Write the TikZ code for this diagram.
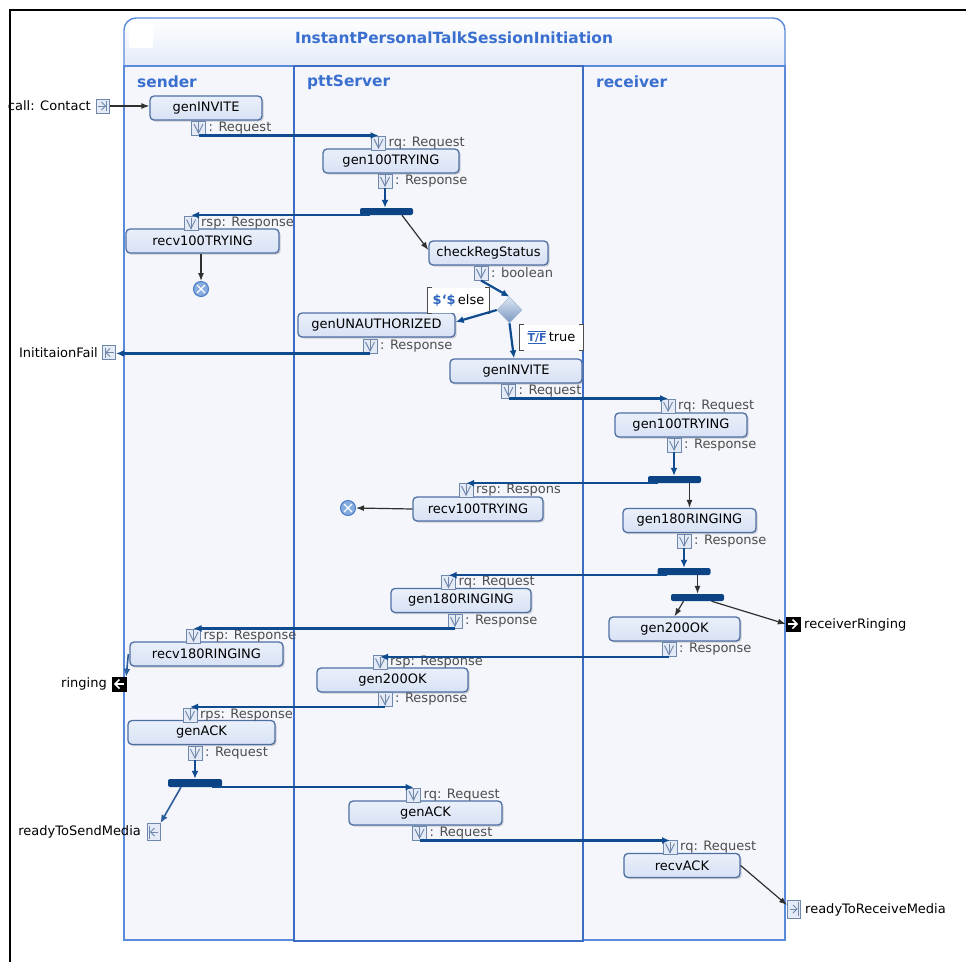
\documentclass[tikz,border=0pt]{standalone}
\usepackage{fontspec}
\setmainfont{DejaVu Sans}
\usetikzlibrary{arrows.meta,shapes.geometric,shadows}

\definecolor{laneTxt}{HTML}{3A6FCF}
\definecolor{laneLine}{HTML}{5A8ADA}
\definecolor{laneDark}{HTML}{3C6CC4}
\definecolor{laneFill}{HTML}{F4F6FC}
\definecolor{titleBot}{HTML}{DCE5F6}
\definecolor{actFill}{HTML}{D8E2F5}
\definecolor{actTop}{HTML}{EAF0FA}
\definecolor{actDraw}{HTML}{4E6FA3}
\definecolor{flowBlue}{HTML}{0F4C8F}
\definecolor{flowMid}{HTML}{2B5C9C}
\definecolor{forkBlue}{HTML}{0B4384}
\definecolor{pinDraw}{HTML}{6E87AB}
\definecolor{pinFill}{HTML}{E4EBF6}
\definecolor{lblGray}{HTML}{4D4D4D}
\definecolor{iconBlue}{HTML}{2F63C0}
\definecolor{ctrlGray}{HTML}{303030}
\definecolor{decTop}{HTML}{DCE6F2}
\definecolor{decBot}{HTML}{7896C0}
\definecolor{finFill}{HTML}{86ABDF}
\definecolor{finDraw}{HTML}{4A7BC4}

\newcommand\myTF{{\color{iconBlue}\fontsize{11}{11}\selectfont\bfseries\rlap{\rule[-2.5pt]{18pt}{0.8pt}}\rlap{\rule[9.5pt]{18pt}{0.8pt}}T/F}}

\tikzset{
  act/.style={draw=actDraw, line width=1.3pt, rounded corners=4pt, top color=actTop, bottom color=actFill,
    minimum height=24pt, inner sep=0pt, font=\fontsize{13}{13}\selectfont,
    drop shadow={shadow xshift=1.6pt, shadow yshift=-1.6pt, opacity=0.35, fill=gray}},
  pinx/.style={draw=pinDraw, fill=pinFill, line width=0.9pt, minimum size=14pt, inner sep=0pt,
    path picture={
      \draw[pinDraw, line width=0.9pt]
        ([xshift=-4.5pt,yshift=-3pt]path picture bounding box.north) -- ([yshift=2pt]path picture bounding box.south)
        -- ([xshift=4.5pt,yshift=-3pt]path picture bounding box.north);
      \draw[pinDraw, line width=0.9pt] ([yshift=-1pt]path picture bounding box.north) -- ([yshift=2pt]path picture bounding box.south);
    }},
  lbl/.style={anchor=west, text=lblGray, inner sep=0pt, font=\fontsize{13}{13}\selectfont},
  plblL/.style={anchor=east, text=black, inner sep=0pt, font=\fontsize{13}{13}\selectfont},
  plblR/.style={anchor=west, text=black, inner sep=0pt, font=\fontsize{13}{13}\selectfont},
  parIn/.style={draw=pinDraw, fill=pinFill, line width=1pt, minimum width=13pt, minimum height=14pt, inner sep=0pt,
    path picture={
      \draw[pinDraw, line width=1pt] ([xshift=2pt]path picture bounding box.west) -- ([xshift=-3.5pt]path picture bounding box.east);
      \draw[pinDraw, line width=1pt] ([xshift=-7.5pt,yshift=4pt]path picture bounding box.east) -- ([xshift=-3.5pt]path picture bounding box.east) -- ([xshift=-7.5pt,yshift=-4pt]path picture bounding box.east);
      \draw[pinDraw, line width=1pt] ([xshift=-2.5pt,yshift=-2pt]path picture bounding box.north east) -- ([xshift=-2.5pt,yshift=2pt]path picture bounding box.south east);
    }},
  parOut/.style={draw=pinDraw, fill=pinFill, line width=1pt, minimum width=13pt, minimum height=14pt, inner sep=0pt,
    path picture={
      \draw[pinDraw, line width=1pt] ([xshift=-2pt]path picture bounding box.east) -- ([xshift=3.5pt]path picture bounding box.west);
      \draw[pinDraw, line width=1pt] ([xshift=7.5pt,yshift=4pt]path picture bounding box.west) -- ([xshift=3.5pt]path picture bounding box.west) -- ([xshift=7.5pt,yshift=-4pt]path picture bounding box.west);
      \draw[pinDraw, line width=1pt] ([xshift=2.5pt,yshift=-2pt]path picture bounding box.north west) -- ([xshift=2.5pt,yshift=2pt]path picture bounding box.south west);
    }},
  parBlkL/.style={draw=black, fill=black, minimum size=14pt, inner sep=0pt,
    path picture={
      \draw[white, line width=1.6pt] ([xshift=-2pt]path picture bounding box.east) -- ([xshift=3pt]path picture bounding box.west);
      \draw[white, line width=1.6pt] ([xshift=7.5pt,yshift=4.5pt]path picture bounding box.west) -- ([xshift=3pt]path picture bounding box.west) -- ([xshift=7.5pt,yshift=-4.5pt]path picture bounding box.west);
    }},
  parBlkR/.style={draw=black, fill=black, minimum size=14pt, inner sep=0pt,
    path picture={
      \draw[white, line width=1.6pt] ([xshift=2pt]path picture bounding box.west) -- ([xshift=-3pt]path picture bounding box.east);
      \draw[white, line width=1.6pt] ([xshift=-7.5pt,yshift=4.5pt]path picture bounding box.east) -- ([xshift=-3pt]path picture bounding box.east) -- ([xshift=-7.5pt,yshift=-4.5pt]path picture bounding box.east);
    }},
  forkbar/.style={fill=forkBlue, rounded corners=2pt, minimum width=53pt, minimum height=7pt, inner sep=0pt},
  finalnode/.style={circle, draw=finDraw, fill=finFill, line width=1pt, minimum size=15pt, inner sep=0pt,
    path picture={
      \draw[white, line width=1.3pt] ([shift={(-4pt,-4pt)}]path picture bounding box.center) -- ([shift={(4pt,4pt)}]path picture bounding box.center);
      \draw[white, line width=1.3pt] ([shift={(-4pt,4pt)}]path picture bounding box.center) -- ([shift={(4pt,-4pt)}]path picture bounding box.center);
    }},
  guard/.style={fill=white, minimum height=25pt, inner xsep=3pt, inner ysep=0pt, font=\fontsize{13}{13}\selectfont},
  bracketline/.style={draw=black!70, line width=1pt},
  objflow/.style={draw=flowBlue, line width=2.2pt, -{Latex[length=8pt,width=7pt]}},
  objflowB/.style={draw=flowMid, line width=1.6pt, -{Latex[length=8pt,width=7pt]}},
  ctrl/.style={draw=ctrlGray, line width=1.2pt, -{Latex[length=8pt,width=6pt]}},
  lanetitle/.style={anchor=base west, text=laneTxt, inner sep=0pt, font=\fontsize{15.4}{15.4}\selectfont\bfseries},
}

\begin{document}
\begin{tikzpicture}[x=1pt,y=-1pt]
\useasboundingbox (0,0) rectangle (966,962);

% ---------- frame ----------
\shade[rounded corners=12pt, top color=white, bottom color=titleBot] (124,18) rectangle (785,80);
\fill[laneFill] (124,66) rectangle (785,940);
\fill[white, rounded corners=2pt] (129,23) rectangle (153,48);
\draw[laneLine, line width=1.4pt, rounded corners=12pt] (124,66) -- (124,18) -- (785,18) -- (785,66);
\draw[laneLine, line width=2pt] (124,66) -- (785,66);
\draw[laneLine, line width=1.3pt] (124,66) rectangle (294,940);
\draw[laneLine, line width=1.3pt] (583,66) rectangle (785,940);
\draw[laneDark, line width=1.8pt] (294,66) rectangle (583,941);

\node[anchor=base, text=laneTxt, inner sep=0pt, font=\fontsize{15.4}{15.4}\selectfont\bfseries] (title) at (454,43) {InstantPersonalTalkSessionInitiation};
\node[lanetitle] (lnSender) at (137,87) {sender};
\node[lanetitle] (lnServer) at (307,86) {pttServer};
\node[lanetitle] (lnRecv) at (596,87) {receiver};

% ---------- actions ----------
\node[act, minimum width=112pt] (sInvite) at (206,108) {genINVITE};
\node[act, minimum width=136pt] (pTry) at (391,161) {gen100TRYING};
\node[act, minimum width=153pt] (sRecvTry) at (202.5,241) {recv100TRYING};
\node[act, minimum width=119pt] (pCheck) at (488.5,253) {checkRegStatus};
\node[act, minimum width=157pt] (pUnauth) at (376.5,325) {genUNAUTHORIZED};
\node[act, minimum width=132pt] (pInvite) at (516,371) {genINVITE};
\node[act, minimum width=132pt] (rTry) at (681,425) {gen100TRYING};
\node[act, minimum width=130pt] (pRecvTry) at (478,509) {recv100TRYING};
\node[act, minimum width=133pt] (rRing) at (689.5,520.5) {gen180RINGING};
\node[act, minimum width=140pt] (pRing) at (461,600.5) {gen180RINGING};
\node[act, minimum width=131pt] (rOk) at (674.5,629) {gen200OK};
\node[act, minimum width=153pt] (sRecvRing) at (206.5,654) {recv180RINGING};
\node[act, minimum width=151pt] (pOk) at (392.5,680) {gen200OK};
\node[act, minimum width=147pt] (sAck) at (201.5,732.5) {genACK};
\node[act, minimum width=153pt] (pAck) at (425.5,813) {genACK};
\node[act, minimum width=116pt] (rAck) at (682,865.5) {recvACK};

% ---------- guards, decision, forks, finals ----------
\node[guard, minimum width=61pt] (gElse) at (458.5,300.5) {\textcolor{iconBlue}{\bfseries\$‘\$}\,else};
\draw[bracketline] ([xshift=4pt]gElse.north west) -- (gElse.north west) -- (gElse.south west) -- ([xshift=4pt]gElse.south west);
\draw[bracketline] ([xshift=-4pt]gElse.north east) -- (gElse.north east) -- (gElse.south east) -- ([xshift=-4pt]gElse.south east);
\node[guard, minimum width=63pt] (gTrue) at (551.5,337.5) {\myTF\,true};
\draw[bracketline] ([xshift=4pt]gTrue.north west) -- (gTrue.north west) -- (gTrue.south west) -- ([xshift=4pt]gTrue.south west);
\draw[bracketline] ([xshift=-4pt]gTrue.north east) -- (gTrue.north east) -- (gTrue.south east) -- ([xshift=-4pt]gTrue.south east);

\node[diamond, minimum width=25pt, minimum height=26pt, inner sep=0pt, top color=decTop, bottom color=decBot, draw=decBot!70, line width=0.5pt] (dec) at (509.5,310) {};

\node[forkbar] (fork1) at (386.5,211.5) {};
\node[forkbar] (fork2) at (674.5,479.5) {};
\node[forkbar] (fork3) at (684,571.5) {};
\node[forkbar] (fork4) at (697.5,597.5) {};
\node[forkbar, minimum width=54pt, minimum height=8pt] (fork5) at (195,783) {};

\node[finalnode] (fin1) at (201,289) {};
\node[finalnode] (fin2) at (348,508) {};

% ---------- pins ----------
\node[pinx] (p1o) at (198.5,128) {};   \node[lbl] (l1o) at ([xshift=2.5pt]p1o.east) {: Request};
\node[pinx] (p2i) at (378.5,143) {};   \node[lbl] (l2i) at ([xshift=2.5pt]p2i.east) {rq: Request};
\node[pinx] (p2o) at (385,181) {};     \node[lbl] (l2o) at ([xshift=2.5pt]p2o.east) {: Response};
\node[pinx] (p3i) at (191,223.5) {};   \node[lbl] (l3i) at ([xshift=2.5pt]p3i.east) {rsp: Response};
\node[pinx] (p4o) at (481,273) {};     \node[lbl] (l4o) at ([xshift=2.5pt]p4o.east) {: boolean};
\node[pinx] (p5o) at (370,346) {};     \node[lbl] (l5o) at ([xshift=2.5pt]p5o.east) {: Response};
\node[pinx] (p6o) at (508.5,391) {};   \node[lbl] (l6o) at ([xshift=2.5pt]p6o.east) {: Request};
\node[pinx] (p7i) at (668,406) {};     \node[lbl] (l7i) at ([xshift=2.5pt]p7i.east) {rq: Request};
\node[pinx] (p7o) at (674,445) {};     \node[lbl] (l7o) at ([xshift=2.5pt]p7o.east) {: Response};
\node[pinx] (p8i) at (466,490) {};     \node[lbl] (l8i) at ([xshift=2.5pt]p8i.east) {rsp: Respons};
\node[pinx] (p9o) at (684,541) {};     \node[lbl] (l9o) at ([xshift=2.5pt]p9o.east) {: Response};
\node[pinx] (p10i) at (448.5,582.5) {}; \node[lbl] (l10i) at ([xshift=2.5pt]p10i.east) {rq: Request};
\node[pinx] (p10o) at (455,621) {};    \node[lbl] (l10o) at ([xshift=2.5pt]p10o.east) {: Response};
\node[pinx] (p11o) at (669,649.5) {};  \node[lbl] (l11o) at ([xshift=2.5pt]p11o.east) {: Response};
\node[pinx] (p12i) at (193.5,636) {};  \node[lbl] (l12i) at ([xshift=2.5pt]p12i.east) {rsp: Response};
\node[pinx] (p13i) at (380,662.5) {};  \node[lbl] (l13i) at ([xshift=2.5pt]p13i.east) {rsp: Response};
\node[pinx] (p13o) at (385,699.5) {};  \node[lbl] (l13o) at ([xshift=2.5pt]p13o.east) {: Response};
\node[pinx] (p14i) at (190,715) {};    \node[lbl] (l14i) at ([xshift=2.5pt]p14i.east) {rps: Response};
\node[pinx] (p14o) at (195,753) {};    \node[lbl] (l14o) at ([xshift=2.5pt]p14o.east) {: Request};
\node[pinx] (p15i) at (413.5,795) {};  \node[lbl] (l15i) at ([xshift=2.5pt]p15i.east) {rq: Request};
\node[pinx] (p15o) at (419.5,833) {};  \node[lbl] (l15o) at ([xshift=2.5pt]p15o.east) {: Request};
\node[pinx] (p16i) at (670,847.5) {};  \node[lbl] (l16i) at ([xshift=2.5pt]p16i.east) {rq: Request};

% ---------- activity parameters ----------
\node[parIn] (callPin) at (102.5,106) {};
\node[plblL] (callLbl) at (91,106) {call: Contact};
\node[parOut] (ifPin) at (109,352.5) {};
\node[plblL] (ifLbl) at (98,353) {InititaionFail};
\node[parBlkL] (ringPin) at (119,684) {};
\node[plblL] (ringLbl) at (107,684) {ringing};
\node[parBlkR] (rrPin) at (793,624) {};
\node[plblR] (rrLbl) at (804,625) {receiverRinging};
\node[parOut, minimum height=17pt] (rtsPin) at (153.5,832) {};
\node[plblL] (rtsLbl) at (141,832) {readyToSendMedia};
\node[parIn, minimum height=18pt] (rtrPin) at (794,909) {};
\node[plblR] (rtrLbl) at (805,910) {readyToReceiveMedia};

% ---------- connectors ----------
\draw[ctrl] (callPin.east) -- (callPin.east -| sInvite.west);
\draw[objflow] (p1o.south) -- (p1o.south -| p2i.north);
\draw[objflow] (p2o.south) -- (p2o.south |- fork1.north);
\draw[objflow] ([xshift=10pt]fork1.south west) -- (p3i.north |- fork1.south west);
\draw[ctrl] ([xshift=15.5pt]fork1.south) -- ([yshift=3pt]pCheck.west);
\draw[ctrl] (fin1.north |- sRecvTry.south) -- (fin1.north);
\draw[objflow] (p4o.south) -- (dec.north);
\draw[objflow] (dec.west) -- ([yshift=3pt]pUnauth.east);
\draw[objflow] (dec.south) -- ([xshift=-2pt]pInvite.north);
\draw[objflow] (p5o.south) -- (p5o.south -| ifPin.east);
\draw[objflow] (p6o.south) -- (p6o.south -| p7i.north);
\draw[objflow] (p7o.south) -- (p7o.south |- fork2.north);
\draw[objflow] ([xshift=10pt]fork2.south west) -- (p8i.north |- fork2.south west);
\draw[ctrl] (pRecvTry.west) -- (fin2.east);
\draw[ctrl] (rRing.north |- fork2.south) -- (rRing.north);
\draw[objflow] (p9o.south) -- (p9o.south |- fork3.north);
\draw[objflow] ([xshift=10pt]fork3.south west) -- (p10i.north |- fork3.south west);
\draw[ctrl] (fork4.north |- fork3.south) -- (fork4.north);
\draw[ctrl] ([xshift=-14pt]fork4.south) -- (rOk.north);
\draw[ctrl] ([xshift=14pt]fork4.south) -- (rrPin.west);
\draw[objflow] (p10o.south) -- (p10o.south -| p12i.north);
\draw[objflowB] ([xshift=-1pt]sRecvRing.west) -- (ringPin.north east);
\draw[objflow] (p11o.south) -- (p11o.south -| p13i.north);
\draw[objflow] (p13o.south) -- (p13o.south -| p14i.north);
\draw[objflow] (p14o.south) -- (p14o.south |- fork5.north);
\draw[objflow] ([xshift=-10pt]fork5.south east) -- (p15i.north |- fork5.south east);
\draw[objflowB] ([xshift=-14pt]fork5.south) -- (rtsPin.north east);
\draw[objflow] (p15o.south) -- (p15o.south -| p16i.north);
\draw[ctrl] (rAck.east) -- ([yshift=4pt]rtrPin.west);

% ---------- outer black border ----------
\draw[black, line width=2.8pt] (10,962) -- (10,10) -- (966,10);
\end{tikzpicture}
\end{document}
